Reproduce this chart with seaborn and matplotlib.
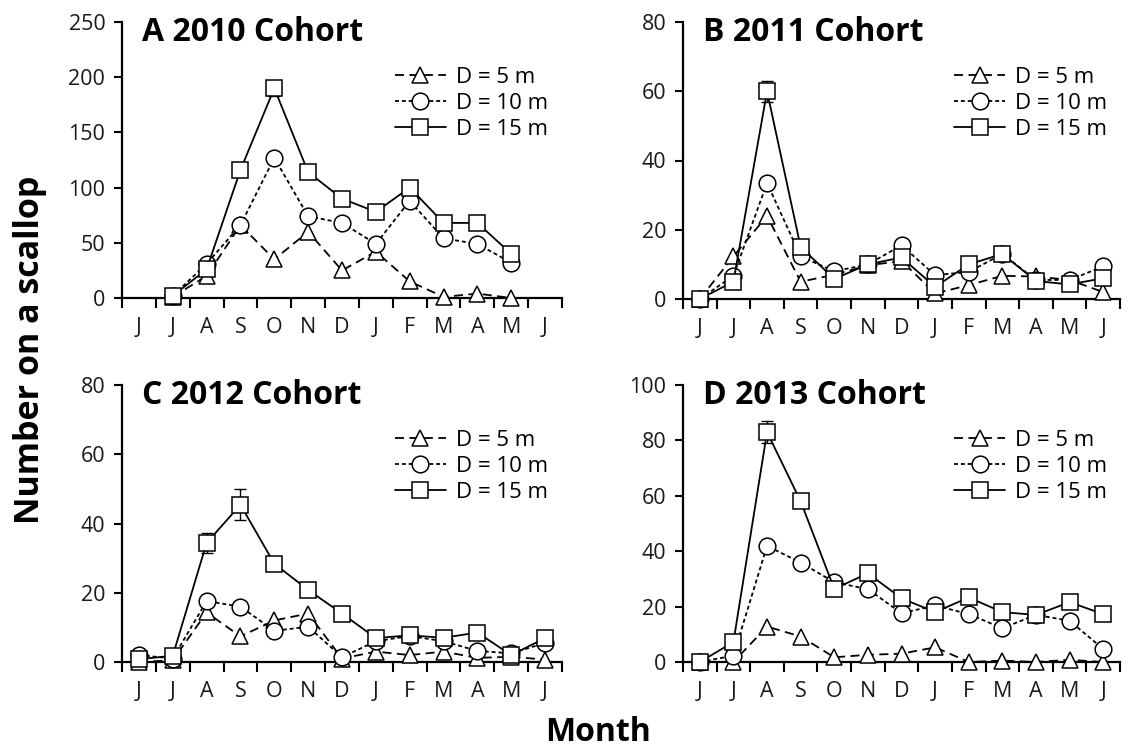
import numpy as np
import pandas as pd
import matplotlib
matplotlib.use("Agg")
import matplotlib.pyplot as plt
import seaborn as sns

months = ["J", "J", "A", "S", "O", "N", "D", "J", "F", "M", "A", "M", "J"]
series_labels = ["D = 5 m", "D = 10 m", "D = 15 m"]
nan = np.nan

# Panel A: 2010 cohort (0-250)
a_5 = [nan, 1, 20, 66, 35, 60, 25, 42, 15, 1, 4, 0, nan]
a_10 = [nan, 2, 31, 66, 127, 74, 68, 49, 88, 54, 49, 32, nan]
a_15 = [nan, 2, 26, 116, 190, 114, 90, 78, 100, 68, 68, 40, nan]
a_15_err = [nan, 0.5, 2, 3, 7, 3, 2, 2, 3, 2, 2, 2, nan]

# Panel B: 2011 cohort (0-80)
b_5 = [0, 12.3, 24, 5, 7, 9.7, 11, 1.6, 4, 6.7, 6.5, 5.5, 2]
b_10 = [0, 6.7, 33.5, 12.3, 8, 10, 15.5, 6.9, 7.8, 13, 5.5, 5.5, 9.4]
b_15 = [0, 5, 60, 15, 5.8, 10, 12, 3.5, 10, 13, 5.2, 4.2, 6]
b_15_err = [0, 0.5, 3, 1, 0.5, 0.5, 1, 0.5, 0.5, 0.5, 0.5, 0.5, 0.5]

# Panel C: 2012 cohort (0-80)
c_5 = [0, 0.5, 14.3, 7.4, 12, 14, 1, 3, 2, 3, 1.2, 1.5, 0.7]
c_10 = [2, 1, 17.6, 16, 9, 10.2, 1.4, 6, 7.5, 6, 3.2, 2.5, 5.5]
c_15 = [0.8, 1.8, 34.4, 45.4, 28.4, 20.8, 14, 6.9, 7.7, 7, 8.5, 2, 6.9]
c_15_err = [0.3, 0.3, 3, 4.5, 1, 1, 1, 0.5, 0.5, 0.5, 0.5, 0.3, 0.5]

# Panel D: 2013 cohort (0-100)
d_5 = [0, 0, 12.8, 9.2, 1.7, 2.6, 3, 5.3, 0, 0.5, 0, 0.8, 0]
d_10 = [0, 2.3, 41.9, 35.9, 28.8, 26.3, 17.6, 20.4, 17.3, 12.2, 17, 14.9, 4.7]
d_15 = [0, 7.2, 83, 58, 26.4, 32, 23, 18, 23.3, 18, 17, 21.6, 17.3]
d_15_err = [0, 1, 4, 2, 1, 1, 1, 1, 1, 1, 1, 1, 1]

panels = [
    ("A 2010 Cohort", a_5, a_10, a_15, a_15_err, 250, 50),
    ("B 2011 Cohort", b_5, b_10, b_15, b_15_err, 80, 20),
    ("C 2012 Cohort", c_5, c_10, c_15, c_15_err, 80, 20),
    ("D 2013 Cohort", d_5, d_10, d_15, d_15_err, 100, 20),
]

sns.set_style("ticks")
plt.rcParams["font.family"] = ["Open Sans", "DejaVu Sans"]
plt.rcParams["text.color"] = "black"
plt.rcParams["xtick.color"] = "black"
plt.rcParams["ytick.color"] = "black"
plt.rcParams["xtick.labelcolor"] = "#1a1a1a"
plt.rcParams["ytick.labelcolor"] = "#1a1a1a"

fig = plt.figure(figsize=(11.29, 7.53), dpi=100)
W, H = 1129, 753
boxes = [
    (122, 22, 562, 298),
    (683, 22, 1120, 299),
    (122, 385, 562, 662),
    (683, 385, 1120, 662),
]

styles = [
    dict(marker="^", linestyle=(0, (5, 3)), ms=11),
    dict(marker="o", linestyle=(0, (2.2, 1.6)), ms=12),
    dict(marker="s", linestyle="-", ms=12),
]

x = np.arange(len(months))
for (title, s5, s10, s15, e15, ymax, ystep), (l, t, r, b) in zip(panels, boxes):
    ax = fig.add_axes([l / W, 1 - b / H, (r - l) / W, (b - t) / H])
    for vals, lab, st in zip([s5, s10, s15], series_labels, styles):
        df = pd.DataFrame({"month": x, "value": vals}).dropna()
        sns.lineplot(data=df, x="month", y="value", ax=ax, color="black",
                     linewidth=1.3, linestyle=st["linestyle"], marker=st["marker"],
                     markersize=st["ms"], markerfacecolor="white",
                     markeredgecolor="black", markeredgewidth=1.1,
                     clip_on=False, label=lab, zorder=3)
    dfe = pd.DataFrame({"month": x, "value": s15, "err": e15}).dropna()
    ax.errorbar(dfe["month"], dfe["value"], yerr=dfe["err"], fmt="none",
                ecolor="black", elinewidth=1.0, capsize=4, capthick=1.0,
                zorder=2, clip_on=False)
    ax.set_xlim(-0.5, 12.5)
    ax.set_ylim(0, ymax)
    ax.set_yticks(np.arange(0, ymax + 1, ystep))
    ax.set_xticks(x)
    ax.set_xticklabels(months)
    ax.set_xticks(np.arange(-0.5, 13, 1), minor=True)
    ax.tick_params(axis="x", which="major", length=0, pad=14, labelsize=15.5)
    ax.tick_params(axis="x", which="minor", length=7, width=1.5, direction="out")
    ax.tick_params(axis="y", length=6, width=1.5, direction="out", labelsize=15.5, pad=6)
    for sp in ["top", "right"]:
        ax.spines[sp].set_visible(False)
    for sp in ["left", "bottom"]:
        ax.spines[sp].set_linewidth(1.6)
        ax.spines[sp].set_color("black")
    ax.set_xlabel("")
    ax.set_ylabel("")
    ax.text(0.045, 0.962, title, transform=ax.transAxes, fontsize=23,
            fontweight="bold", va="center", ha="left", color="black")
    leg = ax.legend(loc="upper left", bbox_to_anchor=(0.6, 0.87), frameon=False,
                    fontsize=16, handlelength=2.3, handletextpad=0.45,
                    labelspacing=0.22, borderaxespad=0)
    for txt in leg.get_texts():
        txt.set_color("black")

fig.text(0.027, 0.535, "Number on a scallop", rotation=90, fontsize=24.5,
         fontweight="bold", ha="center", va="center", color="black")
fig.text(0.53, 0.027, "Month", fontsize=23, fontweight="bold",
         ha="center", va="center", color="black")

fig.savefig("out.png", dpi=100)
